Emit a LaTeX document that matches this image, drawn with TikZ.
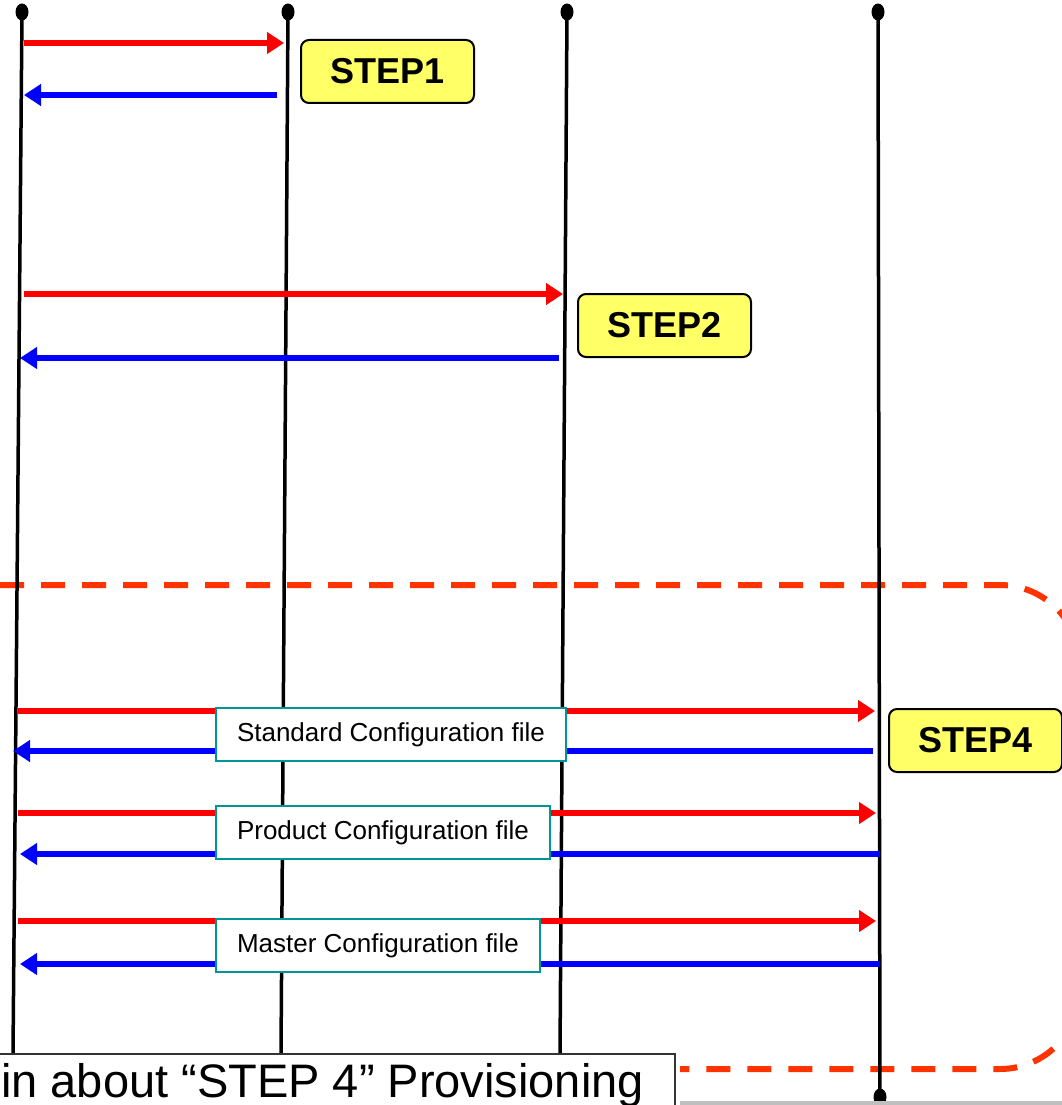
\documentclass[tikz,border=0pt]{standalone}
\usepackage{fontspec}
\setmainfont{Liberation Sans}
\usetikzlibrary{arrows.meta}

\definecolor{stepyellow}{RGB}{255,255,102}
\definecolor{fileteal}{RGB}{0,150,150}
\definecolor{grouporange}{RGB}{255,51,0}

\tikzset{
	lifeline/.style={line width=3.5pt, color=black},
	lifedot/.style={fill=black},
	req/.style={line width=6pt, color=red, -{Triangle[length=17pt,width=21pt]}},
	resp/.style={line width=6pt, color=blue, -{Triangle[length=17pt,width=21pt]}},
	stepbox/.style={draw=black, line width=2pt, fill=stepyellow, rounded corners=8pt, anchor=north west,
		minimum width=173pt, minimum height=63pt, font=\bfseries\fontsize{36}{40}\selectfont},
	filebox/.style={draw=fileteal, line width=2pt, fill=white, anchor=north west,
		inner xsep=21pt, minimum height=53pt, font=\fontsize{26}{30}\selectfont},
	groupline/.style={line width=6pt, color=grouporange, dash pattern=on 24pt off 17pt, rounded corners=80pt},
}

\begin{document}
\begin{tikzpicture}[x=1pt, y=-1pt]
			%%%%% START %%%%%
			\useasboundingbox (0,0) rectangle (1062,1105);
			\clip (0,0) rectangle (1062,1105);
			
			% step 4 group
			\draw[groupline] (0,585) -- (1080,585) -- (1080,1069) -- (680,1069);
			
			% lifelines
			\coordinate (l1top) at (22,12);   \coordinate (l1bot) at (13,1054);
			\coordinate (l2top) at (288,12);  \coordinate (l2bot) at (281,1054);
			\coordinate (l3top) at (567,12);  \coordinate (l3bot) at (560,1054);
			\coordinate (l4top) at (878,12);  \coordinate (l4bot) at (880,1097);
			
			\draw[lifeline] (l1top) -- (l1bot);
			\draw[lifeline] (l2top) -- (l2bot);
			\draw[lifeline] (l3top) -- (l3bot);
			\draw[lifeline] (l4top) -- (l4bot);
			\fill[lifedot] (l1top) ellipse (6.5 and 8.5);
			\fill[lifedot] (l2top) ellipse (6.5 and 8.5);
			\fill[lifedot] (l3top) ellipse (6.5 and 8.5);
			\fill[lifedot] (l4top) ellipse (6.5 and 8.5);
			\fill[lifedot] (l4bot) ellipse (6.5 and 8.5);
			
			% STEP1
			\coordinate (s1q0) at (24,43);   \coordinate (s1q1) at (284,43);
			\coordinate (s1p0) at (277,95);  \coordinate (s1p1) at (24,95);
			\draw[req] (s1q0) -- (s1q1);
			\draw[resp] (s1p0) -- (s1p1);
			\node[stepbox] (step1) at (300,39) {STEP1};
			
			% STEP2
			\coordinate (s2q0) at (24,294);  \coordinate (s2q1) at (563,294);
			\coordinate (s2p0) at (559,358); \coordinate (s2p1) at (20,358);
			\draw[req] (s2q0) -- (s2q1);
			\draw[resp] (s2p0) -- (s2p1);
			\node[stepbox] (step2) at (577,293) {STEP2};
			
			% STEP4
			\coordinate (s4aq0) at (18,711);  \coordinate (s4aq1) at (875,711);
			\coordinate (s4ap0) at (873,751); \coordinate (s4ap1) at (13,751);
			\coordinate (s4bq0) at (18,813);  \coordinate (s4bq1) at (876,813);
			\coordinate (s4bp0) at (880,854); \coordinate (s4bp1) at (20,854);
			\coordinate (s4cq0) at (18,921);  \coordinate (s4cq1) at (876,921);
			\coordinate (s4cp0) at (880,964); \coordinate (s4cp1) at (20,964);
			\draw[req] (s4aq0) -- (s4aq1);
			\draw[resp] (s4ap0) -- (s4ap1);
			\draw[req] (s4bq0) -- (s4bq1);
			\draw[resp] (s4bp0) -- (s4bp1);
			\draw[req] (s4cq0) -- (s4cq1);
			\draw[resp] (s4cp0) -- (s4cp1);
			
			\node[filebox] (stdfile) at (215,707) {Standard Configuration file};
			\node[filebox] (prodfile) at (215,805) {Product Configuration file};
			\node[filebox] (mastfile) at (215,918) {Master Configuration file};
			\node[stepbox] (step4) at (888,708) {STEP4};
			
			% note at the bottom
			\fill[black!25] (680,1101) rectangle (1062,1112);
			\draw[fill=white, draw=black!80, line width=1.5pt] (-5,1054) rectangle (675,1130);
			\node[anchor=base west, inner sep=0pt, font=\fontsize{47}{52}\selectfont] (note) at (1,1097) {in about “STEP 4” Provisioning};
			
			%%%%% END %%%%%
\end{tikzpicture}
\end{document}
